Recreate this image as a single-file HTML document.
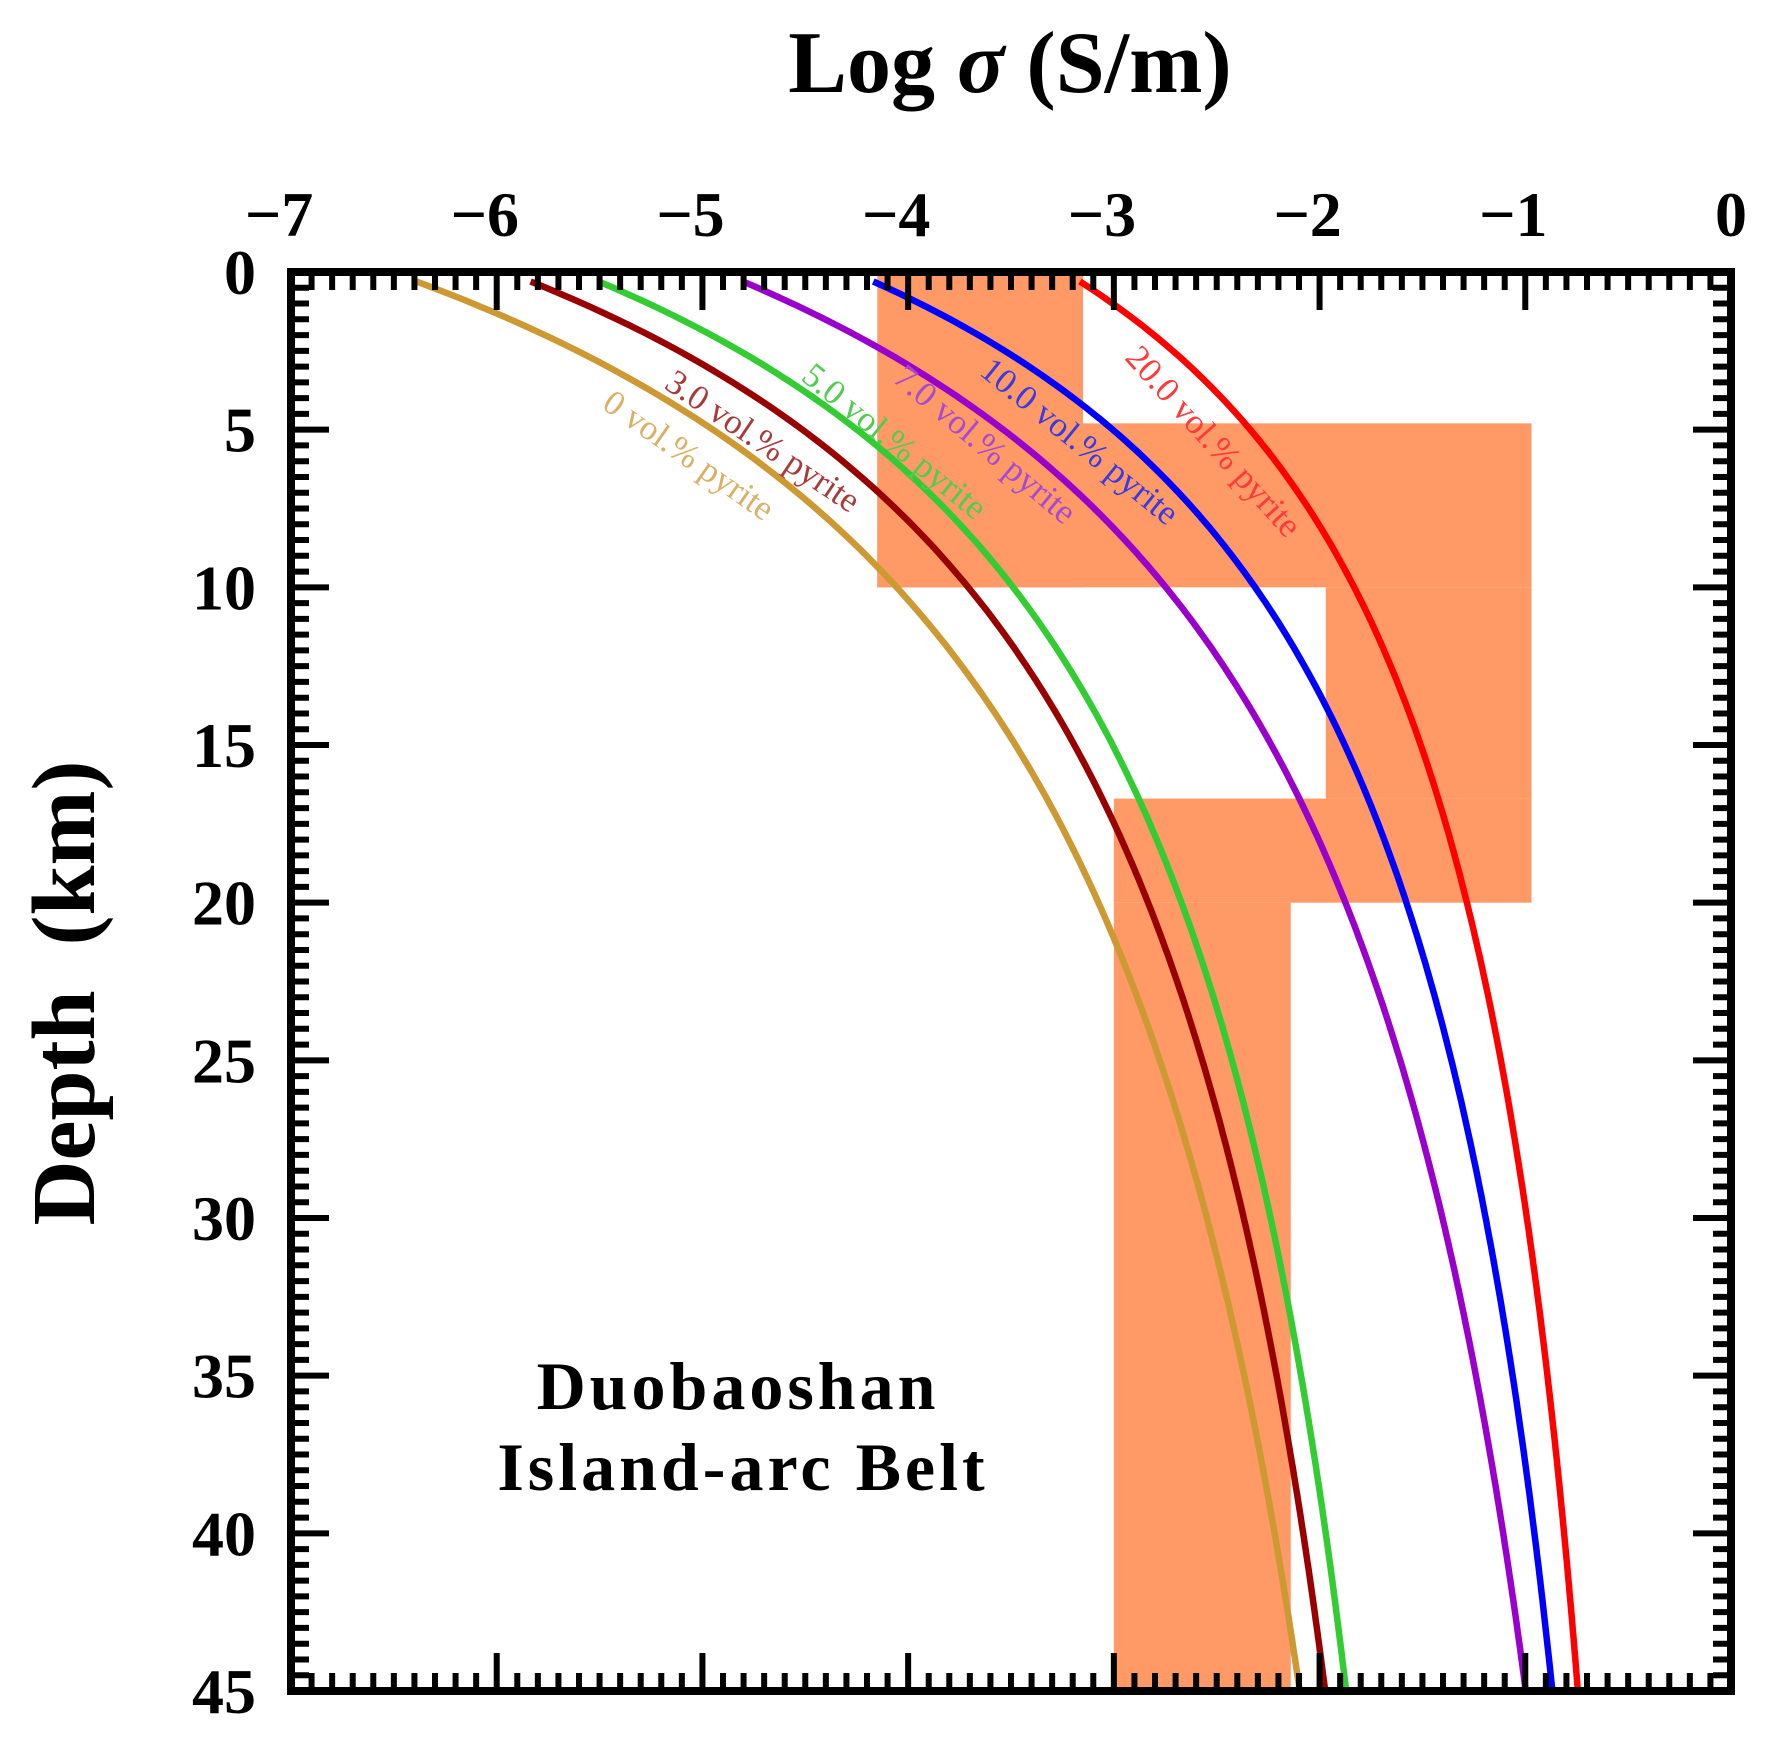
<!DOCTYPE html>
<html><head><meta charset="utf-8"><style>
html,body{margin:0;padding:0;background:#fff;}
svg{display:block;font-family:"Liberation Serif",serif;}
</style></head><body>
<svg id="chart" width="1770" height="1738" viewBox="0 0 1770 1738" xmlns="http://www.w3.org/2000/svg">
<g id="boxes"></g>
<g id="curves"></g>
<g id="ticks"></g>
<rect x="291" y="272" width="1440" height="1419" fill="none" stroke="#000" stroke-width="8"/>
<g id="xlabels"></g>
<g id="ylabels"></g>
<text x="1010" y="92" font-size="88" font-weight="bold" text-anchor="middle">Log <tspan font-style="italic">σ</tspan> (S/m)</text>
<text transform="translate(94,993) rotate(-90)" font-size="90" font-weight="bold" text-anchor="middle" xml:space="preserve">Depth  (km)</text>
<text x="738" y="1409" font-size="68" font-weight="bold" text-anchor="middle" letter-spacing="4">Duobaoshan</text>
<text x="743" y="1490" font-size="68" font-weight="bold" text-anchor="middle" letter-spacing="4">Island-arc Belt</text>
<g id="labels"></g>
</svg>
<script>
const depths = [0.3, 2.36, 4.8, 7.24, 9.65, 13.57, 16.75, 20, 25.7, 32.6, 40, 45];
const pyrite0  = [-6.37,-5.63,-5.06,-4.55,-4.11,-3.55,-3.27,-3.06,-2.78,-2.44,-2.21,-2.13];
const pyrite3  = [-5.87,-5.07,-4.57,-4.15,-3.79,-3.31,-3.01,-2.81,-2.57,-2.27,-2.07,-1.99];
const pyrite5  = [-5.54,-4.80,-4.27,-3.86,-3.57,-3.15,-2.87,-2.66,-2.42,-2.15,-1.96,-1.86];
const pyrite7  = [-4.75,-4.19,-3.64,-3.18,-2.78,-2.31,-2.06,-1.85,-1.56,-1.30,-1.14,-1.03];
const pyrite10 = [-4.17,-3.58,-3.04,-2.63,-2.33,-1.99,-1.78,-1.59,-1.34,-1.10,-0.97,-0.86];
const pyrite20 = [-3.18,-2.74,-2.34,-2.05,-1.84,-1.61,-1.43,-1.32,-1.14,-0.94,-0.80,-0.70];
const seriesNames = ["0 vol.% pyrite","3.0 vol.% pyrite","5.0 vol.% pyrite","7.0 vol.% pyrite","10.0 vol.% pyrite","20.0 vol.% pyrite"];
const seriesColors = ["#CC9933","#990000","#33CC33","#9900CC","#0000FF","#FF0000"];
const labelColors = ["#D9B066","#A83A3A","#50CC50","#A84AD0","#3A3AE0","#FF3A3A"];
// observed ranges
const boxX0 = [-4.15, -4.15, -1.97, -3.0, -3.0];
const boxX1 = [-3.15, -0.97, -0.97, -0.97, -2.14];
const boxD0 = [0, 4.8, 10, 16.7, 20];
const boxD1 = [10, 10, 16.7, 20, 45];
const xTicks = [-7,-6,-5,-4,-3,-2,-1,0];
const yTicks = [0,5,10,15,20,25,30,35,40,45];
// label anchor positions in data units [logσ, depth] and angle
const labelV = [-5.07, -4.71, -4.07, -3.63, -3.17, -2.52];
const labelD = [5.85, 5.4, 5.4, 5.5, 5.4, 5.4];
const labelAng = [35, 34, 39, 40, 39, 48];

const X = v => 291 + (v + 7) * 1440 / 7;
const Y = d => 272 + d * 1419 / 45;
const NS = "http://www.w3.org/2000/svg";
function mk(tag, parent){ const e = document.createElementNS(NS, tag); parent.appendChild(e); return e; }

const gb = document.getElementById('boxes');
for (let i = 0; i < boxX0.length; i++) {
  const r = mk('rect', gb);
  
  
  r.setAttribute('x', X(boxX0[i])); r.setAttribute('y', Y(boxD0[i]));
  r.setAttribute('width', X(boxX1[i]) - X(boxX0[i])); r.setAttribute('height', Y(boxD1[i]) - Y(boxD0[i]));
  r.setAttribute('fill', '#FF9966');
}

// smooth fit through the read points: logσ = A + B/(d + c)  (least squares, c by grid search)
function smoothFit(ds, vs){
  let best = null;
  for (let c = 0.5; c <= 60; c += 0.25) {
    const u = ds.map(d => 1/(d + c));
    const n = u.length;
    const mu = u.reduce((a,b)=>a+b,0)/n, mv = vs.reduce((a,b)=>a+b,0)/n;
    let sxy = 0, sxx = 0;
    for (let i = 0; i < n; i++){ sxy += (u[i]-mu)*(vs[i]-mv); sxx += (u[i]-mu)*(u[i]-mu); }
    const B = sxy/sxx, A = mv - B*mu;
    let sse = 0; for (let i = 0; i < n; i++){ const r = vs[i] - (A + B*u[i]); sse += r*r; }
    if (!best || sse < best.sse) best = {A, B, c, sse};
  }
  return d => best.A + best.B/(d + best.c);
}

const series = [pyrite0, pyrite3, pyrite5, pyrite7, pyrite10, pyrite20];
const gc = document.getElementById('curves');
series.forEach((vals, k) => {
  const f = smoothFit(depths, vals);
  const pts = [];
  const d0 = depths[0], d1 = depths[depths.length-1];
  for (let d = d0; d <= d1 + 1e-9; d += 0.2) pts.push(X(f(d)).toFixed(1) + ',' + Y(d).toFixed(1));
  const p = mk('polyline', gc);
  
  
  p.setAttribute('points', pts.join(' '));
  p.setAttribute('fill', 'none'); p.setAttribute('stroke', seriesColors[k]); p.setAttribute('stroke-width', '6.5');
  p.setAttribute('stroke-linejoin', 'round');
});

const gl = document.getElementById('labels');
seriesNames.forEach((name, k) => {
  const t = mk('text', gl);
  
  
  t.setAttribute('transform', 'translate(' + X(labelV[k]) + ',' + Y(labelD[k]) + ') rotate(' + labelAng[k] + ')');
  t.setAttribute('font-size', '35'); t.setAttribute('text-anchor', 'middle'); t.setAttribute('fill', labelColors[k]);
  t.setAttribute('dy', '10');
  t.textContent = name;
});

const gt = document.getElementById('ticks');
function tick(x1,y1,x2,y2){ const l = mk('line', gt); l.setAttribute('x1',x1); l.setAttribute('y1',y1); l.setAttribute('x2',x2); l.setAttribute('y2',y2); l.setAttribute('stroke','#000'); l.setAttribute('stroke-width','6'); }
for (let i = 0; i <= 70; i++) {
  const v = -7 + i/10, x = X(v), len = (i % 10 === 0) ? 38 : 18;
  tick(x, 272, x, 272+len); tick(x, 1691, x, 1691-len);
}
for (let i = 0; i <= 90; i++) {
  const d = i/2, y = Y(d), len = (i % 10 === 0) ? 38 : 18;
  tick(291, y, 291+len, y); tick(1731, y, 1731-len, y);
}
const gx = document.getElementById('xlabels');
xTicks.forEach(v => {
  const t = mk('text', gx);
  
  
  t.setAttribute('x', X(v) - (v<0?12:0)); t.setAttribute('y', 236); t.setAttribute('font-size', '64'); t.setAttribute('font-weight', 'bold'); t.setAttribute('text-anchor', 'middle');
  t.textContent = v < 0 ? '\u2212' + Math.abs(v) : String(v);
});
const gy = document.getElementById('ylabels');
yTicks.forEach(d => {
  const t = mk('text', gy);
  
  
  t.setAttribute('x', 256); t.setAttribute('y', Y(d) + 22); t.setAttribute('font-size', '64'); t.setAttribute('font-weight', 'bold'); t.setAttribute('text-anchor', 'end');
  t.textContent = String(d);
});
</script>
</body></html>
